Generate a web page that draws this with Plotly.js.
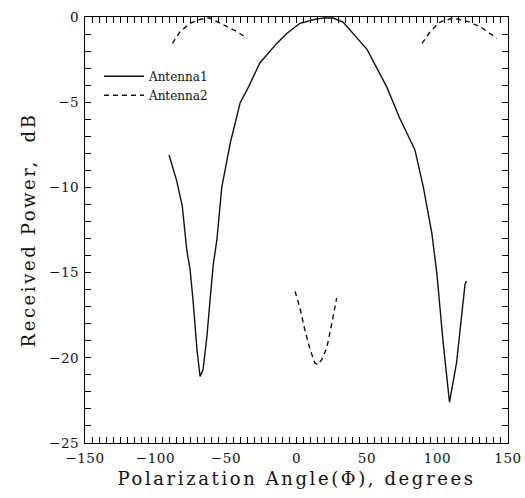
<!DOCTYPE html>
<html>
<head>
<meta charset="utf-8">
<script src="https://cdn.plot.ly/plotly-3.0.1.min.js"></script>
<style>
html,body{margin:0;padding:0;background:#fff;}
#chart{width:525px;height:498px;}
#chart .xtitle, #chart .ytitle{letter-spacing:2.6px;}
#chart .xtick text, #chart .ytick text{letter-spacing:0.6px;}
</style>
</head>
<body>
<div id="chart"></div>
<script>
// Antenna1 (solid)
const ant1Angle = [-90.4, -85, -81, -79, -77.8, -75.5, -73.4, -70.6, -69, -68.4, -66.3, -63.6, -61.3, -59, -56.5, -53, -47, -40, -34, -26, -14, -6.7, 2.5, 14, 20, 26, 33, 50, 64, 73, 84, 90, 96, 99.6, 104, 108.5, 113.5, 119.5, 120.5];
const ant1Power = [-8.1, -9.6, -11.1, -12.7, -13.7, -14.8, -16.6, -19.5, -20.9, -21.1, -20.7, -18.8, -16.6, -14.5, -13.1, -10, -7.4, -5.05, -4.1, -2.7, -1.55, -0.95, -0.37, -0.12, -0.05, -0.06, -0.3, -1.9, -4.1, -5.9, -7.8, -10, -12.7, -15.1, -19.1, -22.6, -20.3, -15.7, -15.5];

// Antenna2 (dashed): three separate segments, null marks the gaps
const ant2Angle = [-88, -82.6, -75.5, -68, -62, -52, -42, -35, null,
                   -1, 2.5, 6, 9.6, 13, 15, 18, 21.5, 25, 28.5, null,
                   89, 94.7, 101.7, 111, 123, 132, 142];
const ant2Power = [-1.55, -0.87, -0.37, -0.13, -0.05, -0.47, -0.87, -1.25, null,
                   -16.1, -17.1, -18.4, -19.5, -20.3, -20.4, -20.1, -19.4, -18, -16.5, null,
                   -1.55, -0.87, -0.3, -0.06, -0.3, -0.66, -1.25];

// Labelled tick values and their labels
const xLabelVals = [-150, -100, -50, 0, 50, 100, 150];
const xLabels = ['\u2212150', '\u2212100', '\u221250', '0', '50', '100', '150'];
const yLabelVals = [-25, -20, -15, -10, -5, 0];
const yLabels = ['\u221225', '\u221220', '\u221215', '\u221210', '\u22125', '0'];
const xTickStep = 5, yTickStep = 1;

const xTitle = 'Polarization Angle(\u03A6), degrees';
const yTitle = 'Received Power,  dB';
const names = ['Antenna1', 'Antenna2'];

// Build tick arrays: small unlabelled ticks between the labelled ones
function buildTicks(lo, hi, step, labelVals, labels) {
  const vals = [], text = [];
  for (let v = lo; v <= hi + 1e-9; v += step) {
    const r = Math.round(v * 1000) / 1000;
    vals.push(r);
    const i = labelVals.indexOf(r);
    text.push(i >= 0 ? labels[i] : '');
  }
  return {vals, text};
}
const xT = buildTicks(-150, 150, xTickStep, xLabelVals, xLabels);
const yT = buildTicks(-25, 0, yTickStep, yLabelVals, yLabels);

const FONT = 'DejaVu Serif, Liberation Serif, serif';
const CLEAR = 'rgba(255,255,255,0)';

const traces = [
  {x: ant1Angle, y: ant1Power, name: names[0], mode: 'lines', line: {color: '#111', width: 1.4}, connectgaps: false},
  {x: ant2Angle, y: ant2Power, name: names[1], mode: 'lines', line: {color: '#111', width: 1.4, dash: '5px,4px'}, connectgaps: false}
];

const layout = {
  width: 525, height: 498,
  margin: {l: 85, r: 17, t: 17, b: 55},
  showlegend: true,
  legend: {x: 0.033, y: 0.895, xanchor: 'left', yanchor: 'top', bgcolor: CLEAR,
           font: {family: FONT, size: 12, color: '#111'}, tracegroupgap: 0, itemwidth: 40},
  xaxis: {
    range: [-150, 150], tickmode: 'array', tickvals: xT.vals, ticktext: xT.text,
    showgrid: false, zeroline: false, showline: true, linecolor: '#000',
    mirror: 'ticks', ticks: 'inside', ticklen: 6, tickcolor: '#000', tickwidth: 1.2,
    ticklabelstandoff: 3,
    tickfont: {family: FONT, size: 13.5, color: '#111'},
    title: {text: xTitle, font: {family: FONT, size: 18, color: '#111'}, standoff: 7}
  },
  yaxis: {
    range: [-25, 0], tickmode: 'array', tickvals: yT.vals, ticktext: yT.text,
    showgrid: false, zeroline: false, showline: true, linecolor: '#000',
    mirror: 'ticks', ticks: 'inside', ticklen: 6, tickcolor: '#000', tickwidth: 1.2,
    ticklabelstandoff: 2,
    tickfont: {family: FONT, size: 13.5, color: '#111'},
    title: {text: yTitle, font: {family: FONT, size: 18, color: '#111'}, standoff: 10}
  }
};

Plotly.newPlot('chart', traces, layout, {displayModeBar: false});
</script>
</body>
</html>
